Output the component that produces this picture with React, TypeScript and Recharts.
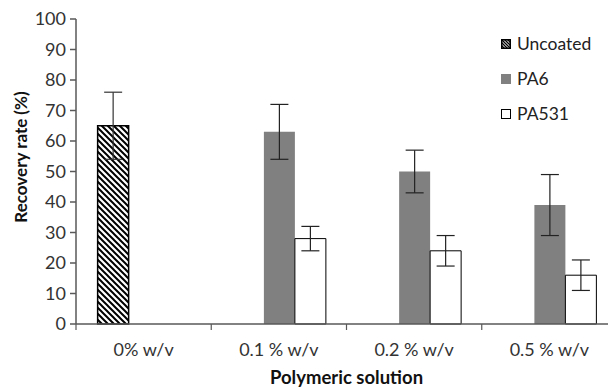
import { BarChart, Bar, XAxis, YAxis, ErrorBar, Label } from "recharts";

const categories = ["0% w/v", "0.1 % w/v", "0.2 % w/v", "0.5 % w/v"];
const uncoated = [65, null, null, null];
const uncoatedErr = [11, null, null, null];
const pa6 = [null, 63, 50, 39];
const pa6Err = [null, 9, 7, 10];
const pa531 = [null, 28, 24, 16];
const pa531Err = [null, 4, 5, 5];
const yTicks = [0, 10, 20, 30, 40, 50, 60, 70, 80, 90, 100];
const seriesNames = ["Uncoated", "PA6", "PA531"];

const data = categories.map((c, i) => ({
  cat: c,
  uncoated: uncoated[i],
  uncoatedErr: uncoatedErr[i],
  pa6: pa6[i],
  pa6Err: pa6Err[i],
  pa531: pa531[i],
  pa531Err: pa531Err[i],
}));

const W = 630;
const H = 388;
const M = { top: 19, right: 13, bottom: 0, left: 0 };
const Y_W = 76;
const X_H = 64;
const FONT = "Lato, 'Open Sans', sans-serif";
const AXIS = "#595959";

function CatTick(props: any) {
  const { x, y, payload } = props;
  const half = (W - M.left - M.right - Y_W) / categories.length / 2;
  return (
    <g>
      <line x1={x - half} x2={x - half} y1={y - 8} y2={y - 2} stroke={AXIS} strokeWidth={1.2} />
      <text
        x={x}
        y={y + 17}
        textAnchor="middle"
        dominantBaseline="central"
        fontFamily={FONT}
        fontSize={18}
        fill="#333"
      >
        {payload.value}
      </text>
    </g>
  );
}

const legendIcons = [
  <rect key="u" x={0.75} y={0.75} width={8.5} height={8.5} fill="url(#hatchSmall)" stroke="#000" strokeWidth={1.5} />,
  <rect key="p" x={0} y={0} width={10} height={10} fill="#808080" />,
  <rect key="w" x={0.5} y={0.5} width={9} height={9} fill="#fff" stroke="#000" strokeWidth={1} />,
];

function LegendBox() {
  return (
    <div
      style={{
        position: "absolute",
        left: 501,
        top: 26,
        fontFamily: FONT,
        fontSize: 17.5,
        color: "#222",
      }}
    >
      {seriesNames.map((name, i) => (
        <div key={name} style={{ display: "flex", alignItems: "center", height: 35 }}>
          <svg width={10} height={10} style={{ marginRight: 6 }}>
            <defs>
              <pattern id="hatchSmall" width={3} height={3} patternUnits="userSpaceOnUse">
                <rect width={3} height={3} fill="#fff" />
                <path d="M0,0 L3,3 M-1,2 L1,4 M2,-1 L4,1" stroke="#000" strokeWidth={1.3} />
              </pattern>
            </defs>
            {legendIcons[i]}
          </svg>
          <span>{name}</span>
        </div>
      ))}
    </div>
  );
}

export default function App() {
  return (
    <div
      style={{
        position: "absolute",
        left: 0,
        top: 0,
        width: 608,
        height: 388,
        overflow: "hidden",
        background: "#fff",
      }}
    >
      <BarChart width={W} height={H} data={data} margin={M} barGap={0} barCategoryGap="16%">
        <defs>
          <pattern id="hatch" width={6} height={6} patternUnits="userSpaceOnUse">
            <rect width={6} height={6} fill="#fff" />
            <path d="M0,0 L6,6 M-1,5 L1,7 M5,-1 L7,1" stroke="#000" strokeWidth={2} />
          </pattern>
        </defs>
        <XAxis
          dataKey="cat"
          stroke={AXIS}
          strokeWidth={1.5}
          tickLine={false}
          tick={<CatTick />}
          interval={0}
          height={X_H}
        >
          <Label
            content={() => (
              <text
                x={Y_W + (W - M.right - Y_W) / 2}
                y={377}
                textAnchor="middle"
                dominantBaseline="central"
                fontFamily={FONT}
                fontSize={18.5}
                fontWeight="bold"
                fill="#111"
              >
                Polymeric solution
              </text>
            )}
          />
        </XAxis>
        <YAxis
          width={Y_W}
          domain={[0, 100]}
          ticks={yTicks}
          interval={0}
          stroke={AXIS}
          strokeWidth={1.5}
          tickSize={6}
          tickMargin={4}
          tick={{ fontFamily: FONT, fontSize: 18, fill: "#333" }}
        >
          <Label
            content={() => (
              <text
                x={20}
                y={157}
                transform="rotate(-90 20 157)"
                textAnchor="middle"
                dominantBaseline="central"
                fontFamily={FONT}
                fontSize={17}
                fontWeight="bold"
                fill="#111"
              >
                Recovery rate (%)
              </text>
            )}
          />
        </YAxis>
        <Bar dataKey="uncoated" name={seriesNames[0]} fill="url(#hatch)" stroke="#000" strokeWidth={1.5} isAnimationActive={false}>
          <ErrorBar dataKey="uncoatedErr" width={9} stroke="#333" strokeWidth={1.2} />
        </Bar>
        <Bar dataKey="pa6" name={seriesNames[1]} fill="#808080" isAnimationActive={false}>
          <ErrorBar dataKey="pa6Err" width={9} stroke="#222" strokeWidth={1.2} />
        </Bar>
        <Bar dataKey="pa531" name={seriesNames[2]} fill="#fff" stroke="#000" strokeWidth={1} isAnimationActive={false}>
          <ErrorBar dataKey="pa531Err" width={9} stroke="#222" strokeWidth={1.2} />
        </Bar>
      </BarChart>
      <LegendBox />
    </div>
  );
}
